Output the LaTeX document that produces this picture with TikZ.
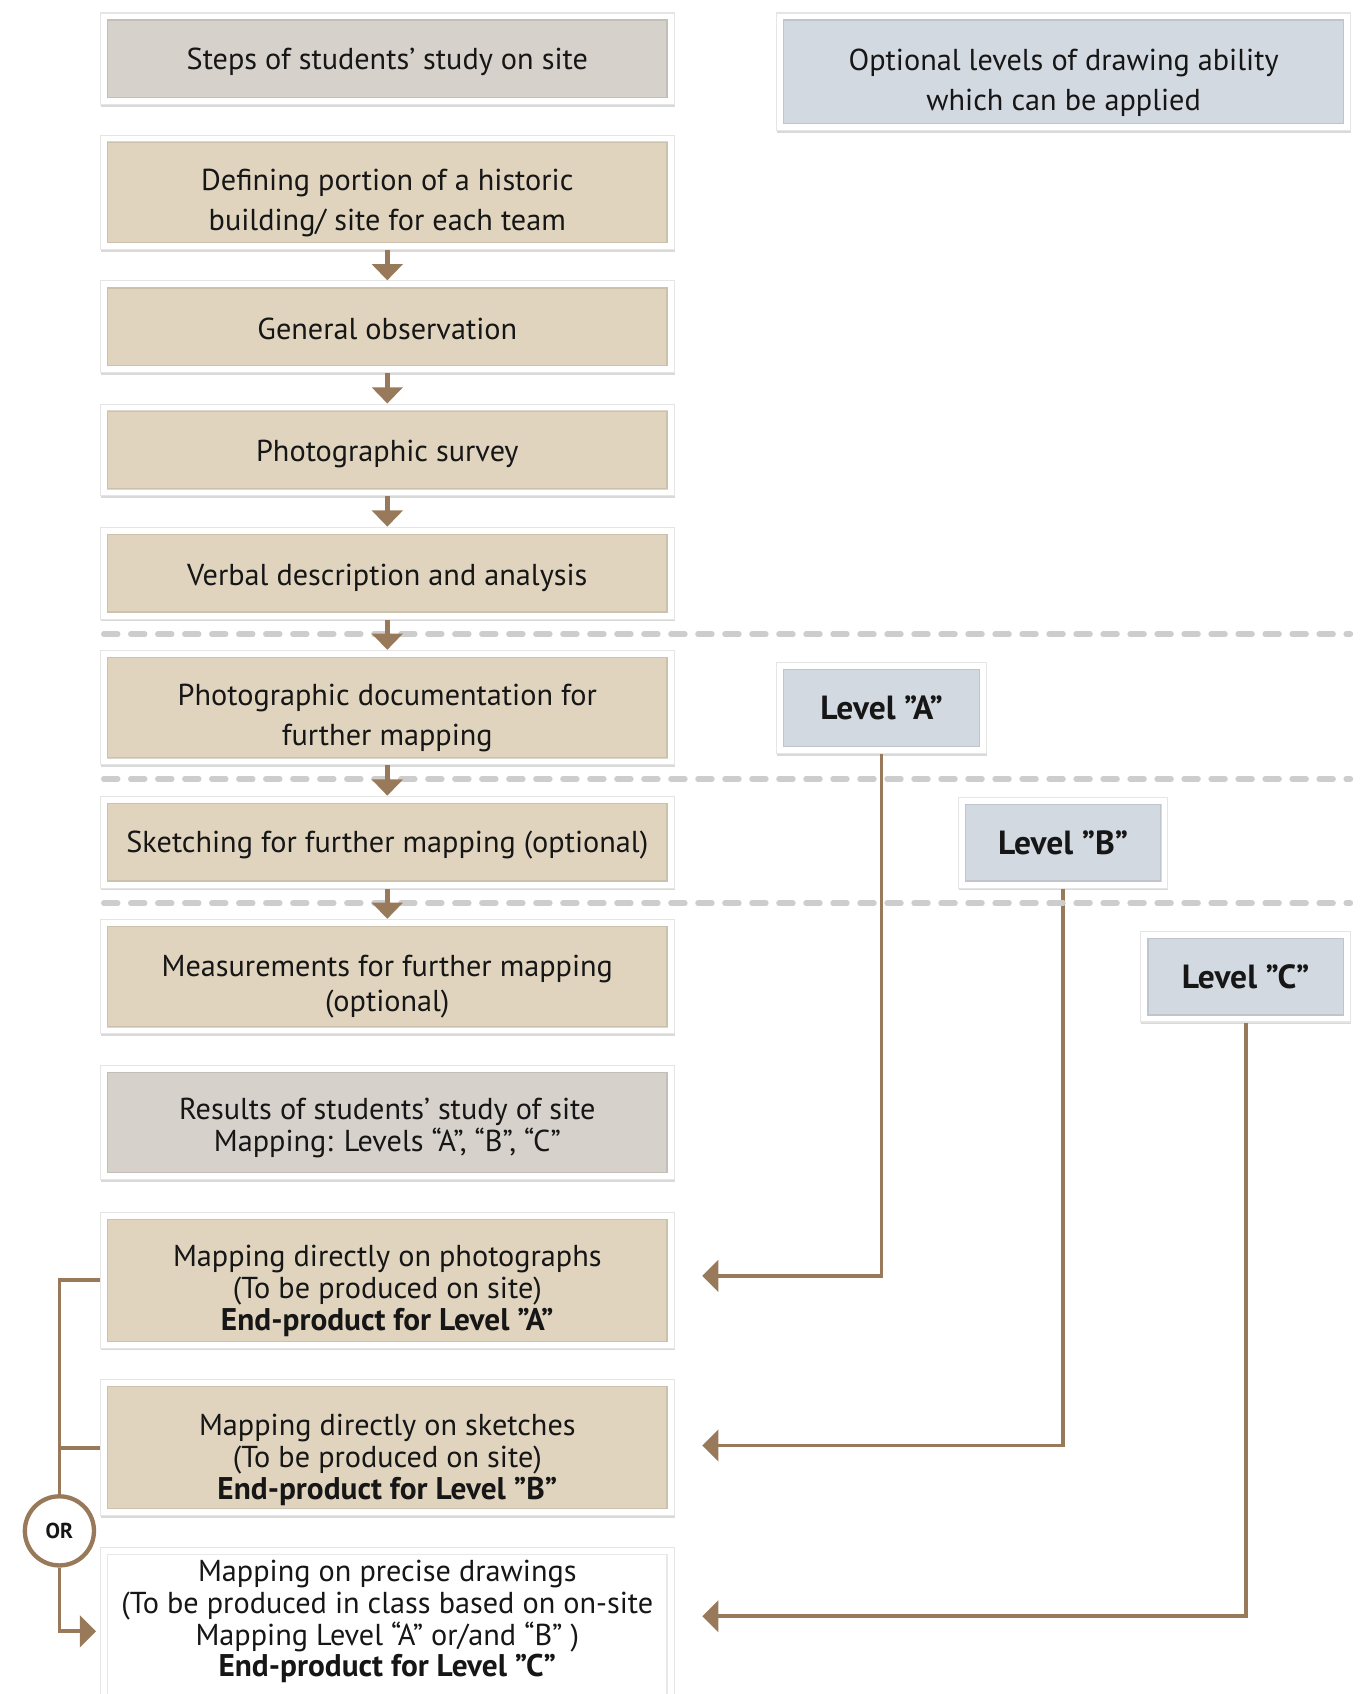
\documentclass[tikz,border=0pt]{standalone}
\usepackage{fontspec}
\setmainfont{PT Sans}
\usetikzlibrary{arrows.meta,shadows,calc}
\definecolor{tanfill}{RGB}{224,212,190}
\definecolor{grayfill}{RGB}{214,209,203}
\definecolor{bluefill}{RGB}{211,217,225}
\definecolor{brownline}{RGB}{152,121,90}
\definecolor{dashgray}{RGB}{205,205,205}
\definecolor{txt}{RGB}{22,22,22}
\newcommand{\bl}[1]{{\fontsize{29}{29.5}\selectfont\bfseries #1}}
\newcommand{\tup}[1]{\rule{0pt}{#1}}
\begin{document}
\begin{tikzpicture}[x=1pt,y=-1pt,
  box/.style={draw=black!10, line width=1pt, fill=white, inner sep=0pt, align=center, text=txt,
    drop shadow={shadow xshift=0.5pt,shadow yshift=-2pt,opacity=0.15,fill=black},
    path picture={
      \fill[#1] ([shift={(6pt,6pt)}]path picture bounding box.south west) rectangle ([shift={(-6pt,-6pt)}]path picture bounding box.north east);
      \draw[#1!80!black, line width=1.2pt, opacity=0.45] ([shift={(6.5pt,6.5pt)}]path picture bounding box.south west) rectangle ([shift={(-6.5pt,-6.5pt)}]path picture bounding box.north east);
    }},
  lbox/.style={box=#1, minimum width=531pt},
  lvl/.style={box=bluefill, minimum width=194pt, minimum height=84pt, font=\bfseries\fontsize{31}{34}\selectfont},
  fa/.style={font=\fontsize{28}{37}\selectfont},
  fb/.style={font=\fontsize{28}{29.5}\selectfont},
  darr/.style={draw=brownline, line width=4.5pt, -{Triangle[width=28pt,length=15pt]}},
  conn/.style={draw=brownline, line width=3.5pt},
  conna/.style={conn, -{Triangle[width=29pt,length=15pt]}},
  dashln/.style={draw=dashgray, line width=5pt, line cap=round, dash pattern=on 13pt off 12pt},
]
\useasboundingbox (0,0) rectangle (1264,1568);

% left column
\node[lbox=grayfill, minimum height=85pt, fa] (s1) at (358.5,54.5) {\tup{26pt}Steps of students' study on site};
\node[lbox=tanfill, minimum height=106pt, fa] (s2) at (358.5,178) {\tup{40pt}Defining portion of a historic\\building/ site for each team};
\node[lbox=tanfill, minimum height=85pt, fa] (s3) at (358.5,302.5) {\tup{24pt}General observation};
\node[lbox=tanfill, minimum height=85pt, fa] (s4) at (358.5,416.5) {\tup{28pt}Photographic survey};
\node[lbox=tanfill, minimum height=85pt, fa] (s5) at (358.5,530.5) {\tup{28pt}Verbal description and analysis};
\node[lbox=tanfill, minimum height=106pt, fa] (s6) at (358.5,655) {\tup{39pt}Photographic documentation for\\further mapping};
\node[lbox=tanfill, minimum height=85pt, fa] (s7) at (358.5,779.5) {\tup{26pt}Sketching for further mapping (optional)};
\node[lbox=tanfill, minimum height=106pt, font=\fontsize{28}{33}\selectfont] (s8) at (358.5,904) {\tup{38pt}Measurements for further mapping\\(optional)};
\node[lbox=grayfill, minimum height=106pt, fb] (s9) at (358.5,1039) {\tup{30pt}Results of students' study of site\\Mapping: Levels “A”, “B”, “C”};
\node[lbox=tanfill, minimum height=126pt, fb] (m1) at (358.5,1185) {\tup{40pt}Mapping directly on photographs\\(To be produced on site)\\\bl{End-product for Level ”A”}};
\node[lbox=tanfill, minimum height=126pt, fb] (m2) at (358.5,1340) {\tup{42pt}Mapping directly on sketches\\(To be produced on site)\\\bl{End-product for Level ”B”}};
\node[lbox=white, minimum height=150pt, fb, anchor=north] (m3) at (358.5,1432) {Mapping on precise drawings\\(To be produced in class based on on-site\\Mapping Level “A” or/and “B” )\\\bl{End-product for Level ”C”}\rule[-19pt]{0pt}{1pt}};

% right column
\node[box=bluefill, minimum width=531pt, minimum height=109pt, fa] (opt) at (984.5,66.5) {\tup{40pt}Optional levels of drawing ability\\which can be applied};
\node[lvl] (lA) at (816,655.5) {Level ”A”};
\node[lvl] (lB) at (984,780) {Level ”B”};
\node[lvl] (lC) at (1153,904) {Level ”C”};

% connectors from levels
\coordinate (tA) at (650,1181);
\coordinate (tB) at (650,1338);
\coordinate (tC) at (650,1496);
\draw[conna] (lA.south) |- (tA);
\draw[conna] (lB.south) |- (tB);
\draw[conna] (lC.south) |- (tC);

% dashed separators
\draw[dashln] (96,587) -- (1250,587);
\draw[dashln] (96,721) -- (1250,721);
\draw[dashln] (96,836) -- (1250,836);

% step arrows
\draw[darr] (s2.south) -- (s3.north);
\draw[darr] (s3.south) -- (s4.north);
\draw[darr] (s4.south) -- (s5.north);
\draw[darr] (s5.south) -- (s6.north);
\draw[darr] (s6.south) -- (s7.north);
\draw[darr] (s7.south) -- (s8.north);

% OR bracket
\node[circle, draw=brownline, line width=4pt, fill=white, minimum size=64pt, inner sep=0pt, text=txt, font=\bfseries\fontsize{20}{20}\selectfont] (or) at (55,1417) {OR};
\coordinate (tL) at (89,1510);
\draw[conn] (m1.west) -| (or.north);
\draw[conn] (m2.west) -- (m2.west -| or.north);
\draw[conna] (or.south) |- (tL);
\end{tikzpicture}
\end{document}
